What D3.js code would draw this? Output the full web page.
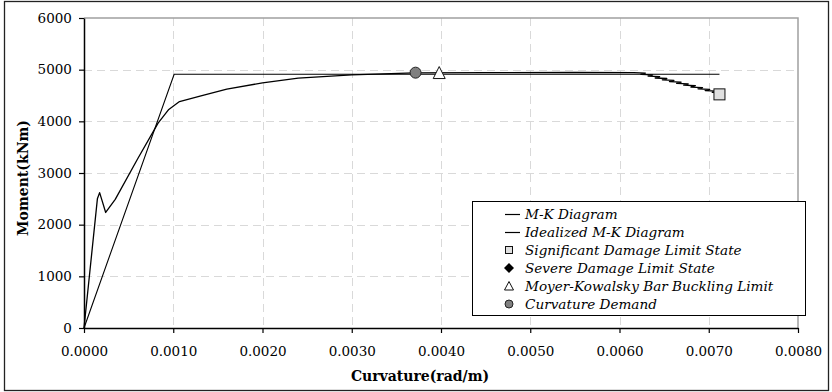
<!DOCTYPE html>
<html>
<head>
<script src="https://d3js.org/d3.v7.min.js"></script>
<style>
  body { margin: 0; background: #fff; }
  svg text { font-family: "DejaVu Serif", serif; fill: #000; }
  .grid line { stroke: #d9d9d9; stroke-dasharray: 8,5; }
  .legend text { font-style: italic; font-size: 13.6px; }
</style>
</head>
<body>
<div id="chart"></div>
<script>
// M-K diagram (curvature rad/m, moment kNm)
const mkCurv = [0, 0.000150, 0.000175, 0.000200, 0.000243, 0.00035, 0.00060, 0.00083, 0.00095, 0.00107, 0.0013, 0.0016, 0.0020, 0.0024, 0.0030, 0.0037, 0.0045, 0.0055, 0.00616,
  0.00629, 0.00624, 0.00637, 0.00632, 0.00645, 0.00640, 0.00653, 0.00648, 0.00661, 0.00656, 0.00669, 0.00664,
  0.00677, 0.00672, 0.00685, 0.00680, 0.00693, 0.00688, 0.00701, 0.00696, 0.00709, 0.00704, 0.00717, 0.00712];
const mkMoment = [0, 2500, 2620, 2480, 2236, 2490, 3270, 3965, 4230, 4383, 4490, 4625, 4745, 4836, 4900, 4938, 4944, 4945, 4944,
  4934, 4909, 4899, 4874, 4864, 4839, 4829, 4804, 4794, 4769, 4759, 4734,
  4724, 4699, 4689, 4664, 4654, 4629, 4619, 4594, 4584, 4559, 4549, 4524];

// idealized bilinear
const idealCurv = [0, 0.00101, 0.00712];
const idealMoment = [0, 4910, 4910];

// limit state points
const sigDamage = [0.00712, 4522];
const bucklingLimit = [0.00398, 4944];
const curvDemand = [0.003715, 4942];

const xTicks = [0, 0.001, 0.002, 0.003, 0.004, 0.005, 0.006, 0.007, 0.008];
const yTicks = [0, 1000, 2000, 3000, 4000, 5000, 6000];

const legendLabels = ["M-K Diagram", "Idealized M-K Diagram", "Significant Damage Limit State",
  "Severe Damage Limit State", "Moyer-Kowalsky Bar Buckling Limit", "Curvature Demand"];

const width = 832, height = 392;
const margin = {top: 18, right: 34, bottom: 64, left: 84};

const svg = d3.select("#chart").append("svg")
  .attr("width", width)
  .attr("height", height);

// outer frame
svg.append("rect")
  .attr("x", 4.5).attr("y", 1.5)
  .attr("width", 824).attr("height", 389)
  .attr("fill", "none").attr("stroke", "#222").attr("stroke-width", 1.3);

const x = d3.scaleLinear().domain([0, 0.008]).range([margin.left, width - margin.right]);
const y = d3.scaleLinear().domain([0, 6000]).range([height - margin.bottom, margin.top]);

// grid
const grid = svg.append("g").attr("class", "grid");
grid.selectAll(".vg").data(xTicks.slice(1, -1)).enter().append("line")
  .attr("x1", d => Math.round(x(d)) + 0.5).attr("x2", d => Math.round(x(d)) + 0.5)
  .attr("y1", y(6000)).attr("y2", y(0));
grid.selectAll(".hg").data(yTicks.slice(1, -1)).enter().append("line")
  .attr("x1", x(0)).attr("x2", x(0.008))
  .attr("y1", d => Math.round(y(d)) + 0.5).attr("y2", d => Math.round(y(d)) + 0.5);

// plot area top / right border
svg.append("path")
  .attr("d", `M${x(0)},${y(6000)}H${x(0.008)}V${y(0)}`)
  .attr("fill", "none").attr("stroke", "#a0a0a0").attr("stroke-width", 1.5);

// axes
const xAxis = svg.append("g")
  .attr("transform", `translate(0,${y(0)})`)
  .call(d3.axisBottom(x).tickValues(xTicks).tickFormat(d3.format(".4f")).tickSize(5).tickSizeOuter(0));
const yAxis = svg.append("g")
  .attr("transform", `translate(${x(0)},0)`)
  .call(d3.axisLeft(y).tickValues(yTicks).tickFormat(d3.format("d")).tickSize(5).tickSizeOuter(0));
[xAxis, yAxis].forEach(a => {
  a.select(".domain").attr("stroke", "#000").attr("stroke-width", 1.5);
  a.selectAll(".tick line").attr("stroke", "#000").attr("stroke-width", 1.2);
  a.selectAll("text").style("font-family", "DejaVu Serif, serif").style("font-size", "13.5px").attr("fill", "#000");
});
xAxis.selectAll("text").attr("dy", "1.5em");
yAxis.selectAll("text").attr("dx", "-0.3em");

// axis titles
svg.append("text")
  .attr("x", 420).attr("y", 381)
  .attr("text-anchor", "middle")
  .style("font-weight", "bold").style("font-size", "14px")
  .text("Curvature(rad/m)");
svg.append("text")
  .attr("transform", "translate(28,178) rotate(-90)")
  .attr("text-anchor", "middle")
  .style("font-weight", "bold").style("font-size", "14px")
  .text("Moment(kNm)");

// lines
const line = d3.line().x(d => x(d[0])).y(d => y(d[1]));
svg.append("path")
  .datum(idealCurv.map((c, i) => [c, idealMoment[i]]))
  .attr("d", line)
  .attr("fill", "none").attr("stroke", "#000").attr("stroke-width", 1.1);
svg.append("path")
  .datum(mkCurv.map((c, i) => [c, mkMoment[i]]))
  .attr("d", line)
  .attr("fill", "none").attr("stroke", "#000").attr("stroke-width", 1.3)
  .attr("stroke-linejoin", "round");

// markers
svg.append("rect")
  .attr("x", x(sigDamage[0]) - 5.5).attr("y", y(sigDamage[1]) - 5.5)
  .attr("width", 11).attr("height", 11)
  .attr("fill", "#e0e0e0").attr("stroke", "#111");
svg.append("path")
  .attr("transform", `translate(${x(bucklingLimit[0])},${y(bucklingLimit[1])})`)
  .attr("d", "M0,-6L6,6H-6Z")
  .attr("fill", "#fff").attr("stroke", "#111");
svg.append("circle")
  .attr("cx", x(curvDemand[0])).attr("cy", y(curvDemand[1]))
  .attr("r", 5.5)
  .attr("fill", "#808080").attr("stroke", "#222");

// legend
const legend = svg.append("g").attr("class", "legend");
legend.append("rect")
  .attr("x", 472.5).attr("y", 201.5)
  .attr("width", 333).attr("height", 114)
  .attr("fill", "#fff").attr("stroke", "#000");
const rows = legend.selectAll(".row").data(legendLabels).enter().append("g")
  .attr("transform", (d, i) => `translate(0,${214 + i * 18})`);
rows.append("text")
  .attr("x", 525).attr("y", 0).attr("dy", "0.35em")
  .text(d => d);
rows.each(function(d, i) {
  const g = d3.select(this);
  if (i < 2) {
    g.append("line").attr("x1", 505).attr("x2", 520).attr("y1", 0.5).attr("y2", 0.5)
      .attr("stroke", "#000").attr("stroke-width", 1.2);
  } else if (i === 2) {
    g.append("rect").attr("x", 505.5).attr("y", -3.5).attr("width", 7).attr("height", 7)
      .attr("fill", "#e0e0e0").attr("stroke", "#111");
  } else if (i === 3) {
    g.append("path").attr("d", "M509,-5L514,0L509,5L504,0Z").attr("fill", "#000");
  } else if (i === 4) {
    g.append("path").attr("d", "M509,-4.5L513.5,4H504.5Z").attr("fill", "#fff").attr("stroke", "#111");
  } else {
    g.append("circle").attr("cx", 509).attr("cy", 0).attr("r", 4)
      .attr("fill", "#808080").attr("stroke", "#222");
  }
});
</script>
</body>
</html>
